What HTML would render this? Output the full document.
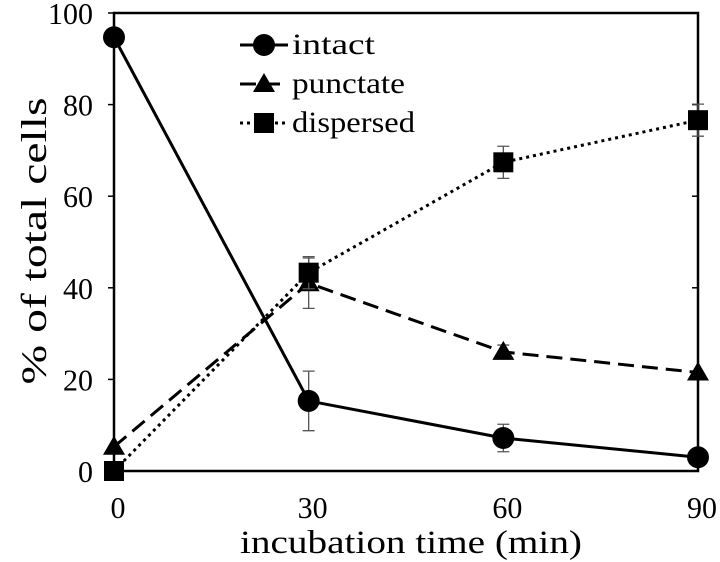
<!DOCTYPE html>
<html><head><meta charset="utf-8"><style>
body{margin:0;background:#fff}
svg{display:block;font-family:"Liberation Serif",serif}
</style></head><body>
<svg id="c" width="720" height="562"></svg>
<script>
const times=[0,30,60,90];
const intact=[94.7,15.3,7.2,3];
const intactErr=[0,6.5,3,0];
const punctate=[5.3,41,26,21.5];
const punctateErr=[0,5.5,1.5,0];
const dispersed=[0,43.3,67.4,76.6];
const dispersedErr=[0,3.5,3.5,3.5];
const yTicks=[0,20,40,60,80,100];
const xTicks=[0,30,60,90];
const L=114,R=698,T=13,B=471;
const xs=v=>L+(v-0)/90*(R-L);
const ys=v=>B-(v/100)*(B-T);
const svg=document.getElementById('c');
const NS='http://www.w3.org/2000/svg';
function mk(t,a,p){const e=document.createElementNS(NS,t);for(const k in a)e.setAttribute(k,a[k]);(p||svg).appendChild(e);return e;}
let e=mk('rect',{x:L,y:T,width:R-L,height:B-T,fill:'none',stroke:'#000','stroke-width':2.5});


yTicks.forEach(v=>{
 let t=mk('line',{x1:L-6,x2:L,y1:ys(v),y2:ys(v),stroke:'#000','stroke-width':1.5});
 
 
 let t2=mk('line',{x1:R-6,x2:R,y1:ys(v),y2:ys(v),stroke:'#000','stroke-width':1.5});
 
 
 const s=String(v);
 let l=mk('text',{x:93,y:ys(v)+11,'text-anchor':'end','font-size':31,textLength:15*s.length,lengthAdjust:'spacingAndGlyphs'});
 l.textContent=s;
 
 
});
xTicks.forEach(v=>{
 const s=String(v);
 let l=mk('text',{x:xs(v)+4,y:518,'text-anchor':'middle','font-size':31,textLength:15*s.length,lengthAdjust:'spacingAndGlyphs'});
 l.textContent=s;
 
 
});
let xt=mk('text',{x:411,y:553,'text-anchor':'middle','font-size':33,textLength:342,lengthAdjust:'spacingAndGlyphs'});
xt.textContent='incubation time (min)';


let yt=mk('text',{x:0,y:0,'text-anchor':'middle','font-size':36,textLength:287,lengthAdjust:'spacingAndGlyphs',transform:'translate(46,241) rotate(-90)'});
yt.textContent='% of total cells';


const series=[
 {name:'intact',vals:intact,err:intactErr,dash:'',marker:'circle',tl:83},
 {name:'punctate',vals:punctate,err:punctateErr,dash:'16,8',marker:'triangle',tl:113},
 {name:'dispersed',vals:dispersed,err:dispersedErr,dash:'3,4',marker:'square',tl:123}
];
function marker(type,x,y,g){
 if(type==='circle')return mk('circle',{cx:x,cy:y,r:11,fill:'#000'},g);
 if(type==='triangle')return mk('polygon',{points:`${x},${y-11} ${x+11},${y+8} ${x-11},${y+8}`,fill:'#000'},g);
 return mk('rect',{x:x-10,y:y-10,width:20,height:20,fill:'#000'},g);
}
series.forEach(s=>{
 const g=mk('g',{});
 
 
 s.vals.forEach((v,i)=>{ if(s.err[i]>0){
   const x=xs(times[i]);
   let eb=mk('path',{d:`M${x},${ys(v+s.err[i])}V${ys(v-s.err[i])}M${x-6},${ys(v+s.err[i])}H${x+6}M${x-6},${ys(v-s.err[i])}H${x+6}`,stroke:'#555','stroke-width':1.3,fill:'none'},g);
   
   
 }});
 const pts=s.vals.map((v,i)=>xs(times[i])+','+ys(v)).join(' ');
 let pl=mk('polyline',{points:pts,fill:'none',stroke:'#000','stroke-width':3,'stroke-dasharray':s.dash},g);
 
 
 s.vals.forEach((v,i)=>{
  let m=marker(s.marker,xs(times[i]),ys(v),g);
  
  
 });
});
series.forEach((s,i)=>{
 const y=45+i*39;
 const g=mk('g',{});
 
 
 mk('line',{x1:240,x2:288,y1:y,y2:y,stroke:'#000','stroke-width':3,'stroke-dasharray':s.dash},g);
 marker(s.marker,264,y,g);
 let t=mk('text',{x:292,y:y+9,'font-size':30,textLength:s.tl,lengthAdjust:'spacingAndGlyphs'},g);
 t.textContent=s.name;
});
</script>
</body></html>
